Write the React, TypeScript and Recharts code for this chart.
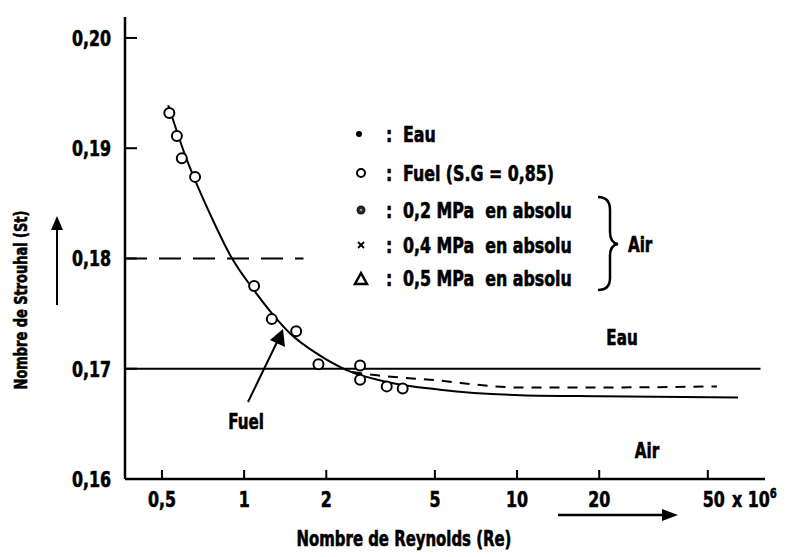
import React from 'react';
import { ComposedChart, Line, Scatter, XAxis, YAxis } from 'recharts';

const FONT = "'DejaVu Sans Condensed', 'DejaVu Sans', sans-serif";
const SQUEEZE = 0.8;

// Re in units of 10^5, St = Strouhal number
const fuelRe = [0.532, 0.567, 0.591, 0.661, 1.088, 1.263, 1.551, 1.872, 2.66, 2.66, 3.33, 3.81];
const fuelSt = [0.1932, 0.1911, 0.1891, 0.1874, 0.1775, 0.1745, 0.1734, 0.1704, 0.1703, 0.169, 0.1684, 0.1682];

// fitted fuel curve
const curveRe = [0.527, 0.564, 0.603, 0.661, 0.751, 0.889, 1.088, 1.266, 1.474, 1.867, 2.363, 3.34, 5.22, 10.3, 20.1, 64.5];
const curveSt = [0.1939, 0.1917, 0.1896, 0.1871, 0.184, 0.1803, 0.1771, 0.175, 0.1732, 0.1713, 0.1699, 0.1688, 0.1681, 0.1676, 0.1675, 0.1674];

// water (Eau) level
const eauRe = [0.366, 78];
const eauSt = [0.17, 0.17];

// air (dashed)
const airRe = [2.49, 3.07, 4.8, 10.3, 20.1, 54];
const airSt = [0.1697, 0.1694, 0.169, 0.1683, 0.1683, 0.1684];

// dashed reference at 0.18
const refRe = [0.366, 1.65];
const refSt = [0.18, 0.18];

const xTicks = [0.5, 1, 2, 5, 10, 20, 50];
const xTickLabels = ['0,5', '1', '2', '5', '10', '20', '50'];
const yTicks = [0.16, 0.17, 0.18, 0.19, 0.2];
const yTickLabels = ['0,16', '0,17', '0,18', '0,19', '0,20'];

const legendLabels = ['Eau', 'Fuel (S.G = 0,85)', '0,2 MPa', '0,4 MPa', '0,5 MPa'];

const toPoints = (xs: number[], ys: number[]) => xs.map((re, i) => ({ re, st: ys[i] }));

// narrow bold text, squeezed horizontally to look like a condensed face
const CText = ({ x, y, size = 21, anchor = 'start', rotate = 0, sx = SQUEEZE, children }: any) => (
  <text
    transform={`translate(${x},${y}) rotate(${rotate}) scale(${sx},1)`}
    textAnchor={anchor}
    fontFamily={FONT}
    fontWeight="bold"
    fontSize={size}
    fill="#000"
    stroke="#000"
    strokeWidth={0.6}
  >
    {children}
  </text>
);

const XTick = (props: any) => {
  const { x, y, payload } = props;
  const i = xTicks.indexOf(payload.value);
  const label = xTickLabels[i];
  const last = i === xTicks.length - 1;
  return (
    <g>
      <line x1={x} x2={x} y1={y - 9} y2={y} stroke="#000" strokeWidth={2} />
      {last ? (
        <CText x={x - 5} y={y + 28} size={22}>
          {label}
          <tspan dx={9}>x 10</tspan>
          <tspan dy={-9} fontSize={14}>6</tspan>
        </CText>
      ) : (
        <CText x={x} y={y + 28} size={22} anchor="middle">
          {label}
        </CText>
      )}
    </g>
  );
};

const YTick = (props: any) => {
  const { x, y, payload } = props;
  const label = yTickLabels[yTicks.indexOf(payload.value)];
  return (
    <g>
      <line x1={x} x2={x + 12} y1={y} y2={y} stroke="#000" strokeWidth={2} />
      <CText x={x - 14} y={y + 8} size={22} anchor="end">
        {label}
      </CText>
    </g>
  );
};

const OpenCircle = (props: any) => (
  <circle cx={props.cx} cy={props.cy} r={5} fill="#fff" stroke="#000" strokeWidth={2} />
);

const Overlay = () => {
  const rows = [134, 173, 210, 245, 278];
  return (
    <svg width={786} height={557} style={{ position: 'absolute', left: 0, top: 0, pointerEvents: 'none' }}>
      {/* axis titles */}
      <CText x={27} y={300} size={18} anchor="middle" rotate={-90} sx={0.8}>
        Nombre de Strouhal (St)
      </CText>
      <line x1={57} y1={305} x2={57} y2={228} stroke="#000" strokeWidth={2} />
      <polygon points="51,230 63,230 57,216" fill="#000" />
      <CText x={404} y={546} anchor="middle" sx={0.79}>
        Nombre de Reynolds (Re)
      </CText>
      <line x1={558} y1={515} x2={664} y2={515} stroke="#000" strokeWidth={2.5} />
      <polygon points="662,509 662,521 678,515" fill="#000" />

      {/* Fuel annotation */}
      <line x1={248} y1={402} x2={278} y2={340} stroke="#000" strokeWidth={2} />
      <polygon points="283,329 285,347 270,340" fill="#000" />
      <CText x={246} y={429} anchor="middle">Fuel</CText>

      <CText x={622} y={345} anchor="middle">Eau</CText>
      <CText x={647} y={458} anchor="middle">Air</CText>

      {/* legend */}
      <circle cx={359} cy={rows[0]} r={3} fill="#000" />
      <circle cx={361} cy={rows[1]} r={4} fill="#fff" stroke="#000" strokeWidth={2} />
      <circle cx={361} cy={rows[2]} r={4.5} fill="#222" />
      <circle cx={361} cy={rows[2]} r={1.3} fill="#999" />
      <g stroke="#000" strokeWidth={1.8}>
        <line x1={358} y1={rows[3] - 3} x2={364} y2={rows[3] + 3} />
        <line x1={358} y1={rows[3] + 3} x2={364} y2={rows[3] - 3} />
      </g>
      <polygon
        points={`355,${rows[4] + 6} 367,${rows[4] + 6} 361,${rows[4] - 5}`}
        fill="none"
        stroke="#000"
        strokeWidth={2.5}
      />
      {legendLabels.map((lab, i) => (
        <g key={lab}>
          <CText x={386} y={rows[i] + 8} size={22}>:</CText>
          <CText x={403} y={rows[i] + 8} size={22}>
            {lab}
            {i >= 2 ? <tspan dx={14}>en absolu</tspan> : null}
          </CText>
        </g>
      ))}
      <path
        d="M598 197 Q610 197 610 210 L610 232 Q610 243 618 244 Q610 245 610 256 L610 278 Q610 290 598 290"
        fill="none"
        stroke="#000"
        strokeWidth={2.5}
      />
      <CText x={628} y={252}>Air</CText>
    </svg>
  );
};

export default function App() {
  return (
    <div style={{ position: 'absolute', left: 0, top: 0, width: 786, height: 557, background: '#fff' }}>
      <ComposedChart width={786} height={557} margin={{ top: 17, right: 21, left: 65, bottom: 48 }}>
        <XAxis
          dataKey="re"
          type="number"
          scale="log"
          domain={[0.366, 81]}
          allowDataOverflow
          ticks={xTicks}
          tick={<XTick />}
          tickLine={false}
          tickSize={0}
          tickMargin={0}
          height={30}
          axisLine={{ stroke: '#000', strokeWidth: 2.5 }}
          interval={0}
        />
        <YAxis
          dataKey="st"
          type="number"
          domain={[0.16, 0.2019]}
          allowDataOverflow
          ticks={yTicks}
          tick={<YTick />}
          tickLine={false}
          tickSize={0}
          tickMargin={0}
          width={60}
          axisLine={{ stroke: '#000', strokeWidth: 2.5 }}
          interval={0}
        />
        <Line data={toPoints(refRe, refSt)} dataKey="st" stroke="#000" strokeWidth={2} strokeDasharray="22 12" dot={false} isAnimationActive={false} />
        <Line data={toPoints(eauRe, eauSt)} dataKey="st" stroke="#000" strokeWidth={2} dot={false} isAnimationActive={false} />
        <Line data={toPoints(airRe, airSt)} dataKey="st" type="monotone" stroke="#000" strokeWidth={2} strokeDasharray="10 8" dot={false} isAnimationActive={false} />
        <Line data={toPoints(curveRe, curveSt)} dataKey="st" type="monotone" stroke="#000" strokeWidth={2} dot={false} isAnimationActive={false} />
        <Scatter data={toPoints(fuelRe, fuelSt)} dataKey="st" shape={<OpenCircle />} isAnimationActive={false} />
      </ComposedChart>
      <Overlay />
    </div>
  );
}
